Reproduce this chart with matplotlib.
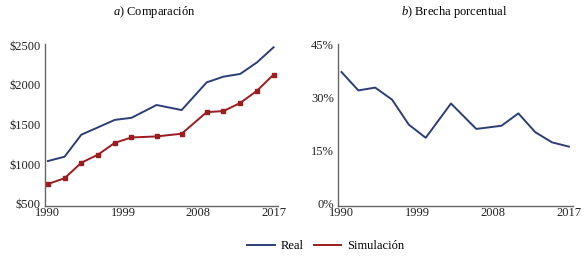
import matplotlib
matplotlib.use("Agg")
import matplotlib.pyplot as plt
from matplotlib.ticker import FuncFormatter
from matplotlib.transforms import ScaledTranslation

years = [1990, 1992, 1994, 1996, 1998, 2000, 2003, 2006, 2009, 2011, 2013, 2015, 2017]
real = [1063, 1118, 1396, 1489, 1583, 1609, 1771, 1707, 2057, 2129, 2163, 2308, 2500]
simulacion = [773, 846, 1042, 1144, 1293, 1361, 1374, 1408, 1681, 1694, 1796, 1950, 2155]
brecha = [37.8, 32.6, 33.4, 30.0, 22.9, 19.2, 28.9, 21.7, 22.6, 26.1, 20.8, 17.9, 16.7]
xticks = [1990, 1999, 2008, 2017]
yticks_a = [500, 1000, 1500, 2000, 2500]
yticks_b = [0, 15, 30, 45]

plt.rcParams['font.family'] = ['Liberation Serif', 'DejaVu Serif']
plt.rcParams['font.size'] = 9
plt.rcParams['mathtext.fontset'] = 'custom'
plt.rcParams['mathtext.it'] = 'Liberation Serif:italic'
plt.rcParams['mathtext.rm'] = 'Liberation Serif'

blue = '#2c3e78'
red = '#9c1c1f'
spine_c = '#666666'

fig = plt.figure(figsize=(5.86, 2.58), dpi=100)
ax1 = fig.add_axes([0.076, 0.203, 0.398, 0.626])
ax2 = fig.add_axes([0.577, 0.203, 0.401, 0.626])

l1, = ax1.plot(years, real, color=blue, lw=1.4, label='Real')
l2, = ax1.plot(years, simulacion, color=red, lw=1.4, marker='s', ms=3.2, label='Simulación')
ax2.plot(years, brecha, color=blue, lw=1.4)

for ax in (ax1, ax2):
    for s in ('top', 'right'):
        ax.spines[s].set_visible(False)
    for s in ('left', 'bottom'):
        ax.spines[s].set_color(spine_c)
        ax.spines[s].set_linewidth(1.0)
    ax.set_xticks(xticks)
    ax.set_xlim(1989.6, 2017.5)
    ax.tick_params(length=0, colors='#222222', labelsize=9)
    ax.tick_params(axis='x', pad=1)
    ax.tick_params(axis='y', pad=3)

ax1.set_ylim(500, 2540)
ax1.set_yticks(yticks_a)
ax1.yaxis.set_major_formatter(FuncFormatter(lambda v, p: f"${int(v)}"))
ax2.set_ylim(0, 45.7)
ax2.set_yticks(yticks_b)
ax2.yaxis.set_major_formatter(FuncFormatter(lambda v, p: f"{int(v)}%"))

off = ScaledTranslation(0, 2 / 100, fig.dpi_scale_trans)
for ax in (ax1, ax2):
    for lab in ax.get_yticklabels():
        lab.set_transform(lab.get_transform() + off)

fig.text(0.264, 0.955, r"$\it{a)}$ Comparación", ha='center', va='center', fontsize=9)
fig.text(0.775, 0.955, r"$\it{b)}$ Brecha porcentual", ha='center', va='center', fontsize=9)

fig.legend(handles=[l1, l2], labels=['Real', 'Simulación'], loc='center',
           bbox_to_anchor=(0.556, 0.045), ncol=2, frameon=False,
           handlelength=2.2, columnspacing=0.8, handletextpad=0.5, fontsize=9)
for h in fig.legends[0].legend_handles:
    h.set_marker('')

fig.savefig('out.png', dpi=100)
